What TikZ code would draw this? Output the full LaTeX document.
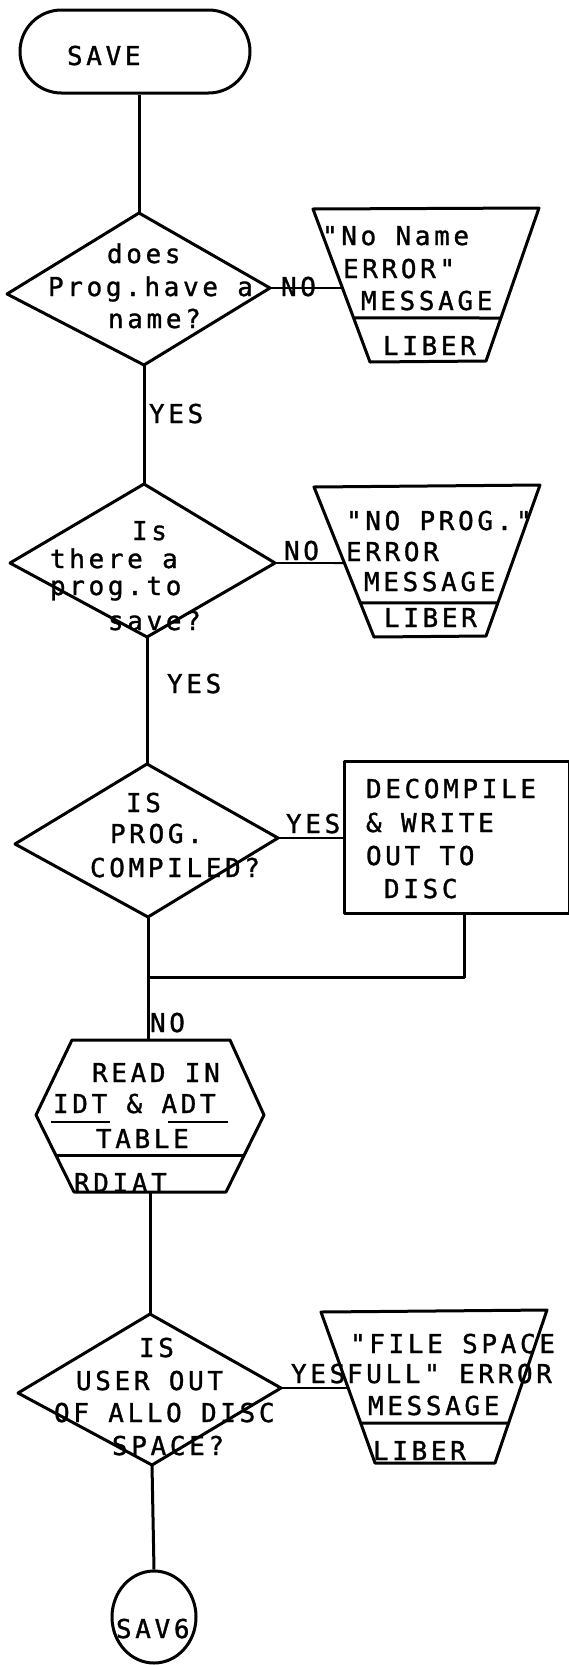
\documentclass[tikz,border=0pt]{standalone}
\usepackage{fontspec}
\newfontfamily\tw[LetterSpace=14.0,FakeBold=1.2]{DejaVu Sans Mono}
\usetikzlibrary{shapes.geometric,shapes.misc,calc}
\begin{document}
\begin{tikzpicture}[x=1pt,y=-1pt,line join=round,
  outl/.style={line width=3pt},
  flow/.style={line width=3pt},
  sideline/.style={line width=1.9pt},
  uline/.style={line width=2.2pt},
  lbl/.style={anchor=base west,inner sep=0pt,outer sep=0pt,font=\tw\fontsize{26}{30}\selectfont}]
\useasboundingbox (0,0) rectangle (568,1665);

% ---------- SAVE terminal
\node[draw,outl,rounded rectangle,minimum width=230pt,minimum height=83pt,inner sep=0pt] (save) at (135,51.5) {};
\node[lbl] (saveT) at (67,65) {SAVE};

% ---------- Decision 1
\coordinate (d1t) at (139,213);
\coordinate (d1r) at (270,288);
\coordinate (d1b) at (144,365);
\coordinate (d1l) at (7,294);
\draw[outl] (d1t) -- (d1r) -- (d1b) -- (d1l) -- cycle;
\node[lbl] (d1x1) at (107,263) {does};
\node[lbl] (d1x2) at (48,296) {Prog.have a};
\node[lbl] (d1x3) at (108,328) {name?};
\draw[flow] (d1t |- save.south) -- (d1t);

% ---------- Message 1
\coordinate (t1tl) at (313,209);
\coordinate (t1tr) at (539,208);
\coordinate (t1br) at (486,361);
\coordinate (t1bl) at (370,362);
\draw[outl] (t1tl) -- (t1tr) -- (t1br) -- (t1bl) -- cycle;
\coordinate (t1w) at ($(t1tl)!0.516!(t1bl)$);
\draw[outl] ($(t1tl)!0.712!(t1bl)$) -- ($(t1tr)!0.719!(t1br)$);
\node[lbl] (t1x1) at (322,245) {"No Name};
\node[lbl] (t1x2) at (343,278) {ERROR"};
\node[lbl] (t1x3) at (361,310) {MESSAGE};
\node[lbl] (t1x4) at (383,355) {LIBER};
\node[lbl] (no1) at (281,296) {NO};
\draw[sideline] (d1r) -- (t1w);
\node[lbl] (yes1) at (149,423) {YES};

% ---------- Decision 2
\coordinate (d2t) at (144,484);
\coordinate (d2r) at (275,563);
\coordinate (d2b) at (147,637);
\coordinate (d2l) at (10,563);
\draw[outl] (d2t) -- (d2r) -- (d2b) -- (d2l) -- cycle;
\node[lbl] (d2x1) at (132,540) {Is};
\node[lbl] (d2x2) at (50,568) {there a};
\node[lbl] (d2x3) at (50,595) {prog.to};
\node[lbl] (d2x4) at (108,630) {save?};
\draw[flow] (d1b) -- (d2t);

% ---------- Message 2
\coordinate (t2tl) at (314,487);
\coordinate (t2tr) at (540,485);
\coordinate (t2br) at (486,636);
\coordinate (t2bl) at (374,637);
\draw[outl] (t2tl) -- (t2tr) -- (t2br) -- (t2bl) -- cycle;
\coordinate (t2w) at ($(t2tl)!0.507!(t2bl)$);
\draw[outl] ($(t2tl)!0.773!(t2bl)$) -- ($(t2tr)!0.781!(t2br)$);
\node[lbl] (t2x1) at (346,530) {"NO PROG."};
\node[lbl] (t2x2) at (346,561) {ERROR};
\node[lbl] (t2x3) at (364,591) {MESSAGE};
\node[lbl] (t2x4) at (384,627) {LIBER};
\node[lbl] (no2) at (284,560) {NO};
\draw[sideline] (d2r) -- (t2w);
\node[lbl] (yes2) at (167,693) {YES};

% ---------- Decision 3
\coordinate (d3t) at (147,764);
\coordinate (d3r) at (278,838);
\coordinate (d3b) at (148,917);
\coordinate (d3l) at (15,844);
\draw[outl] (d3t) -- (d3r) -- (d3b) -- (d3l) -- cycle;
\node[lbl] (d3x1) at (126,812) {IS};
\node[lbl] (d3x2) at (110,843) {PROG.};
\node[lbl] (d3x3) at (90,877) {COMPILED?};
\draw[flow] (d2b) -- (d3t);

% ---------- Decompile box
\node[draw,outl,minimum width=225pt,minimum height=152pt,inner sep=0pt,anchor=north west] (box) at (343,760) {};
\node[lbl] (bx1) at (366,798) {DECOMPILE};
\node[lbl] (bx2) at (366,832) {\& WRITE};
\node[lbl] (bx3) at (366,865) {OUT TO};
\node[lbl] (bx4) at (384,898) {DISC};
\node[lbl] (yes3) at (286,833) {YES};
\draw[sideline] (d3r) -- (d3r -| box.west);
\coordinate (m) at (148,977);
\coordinate (bxo) at ($(box.south west)+(121,0)$);
\draw[flow] (bxo) |- (m);

% ---------- Read-in hexagon
\coordinate (h1) at (72,1040);
\coordinate (h2) at (230,1040);
\coordinate (h3) at (264,1115);
\coordinate (h4) at (226,1192);
\coordinate (h5) at (74,1192);
\coordinate (h6) at (36,1115);
\draw[outl] (h1) -- (h2) -- (h3) -- (h4) -- (h5) -- (h6) -- cycle;
\draw[outl] ($(h6)!0.532!(h5)$) -- ($(h3)!0.532!(h4)$);
\node[lbl] (hx1) at (92,1082) {READ IN};
\node[lbl] (hx2) at (53,1113) {IDT \& ADT};
\draw[uline] (51,1122) -- (110,1122);
\draw[uline] (168,1122) -- (228,1122);
\node[lbl] (hx3) at (96,1148) {TABLE};
\node[lbl] (hx4) at (74,1192) {RDIAT};
\coordinate (hT) at (148,1040);
\coordinate (hB) at (150,1192);
\draw[flow] (d3b) -- (hT);
\node[lbl] (no3) at (150,1032) {NO};

% ---------- Decision 4
\coordinate (d4t) at (150,1314);
\coordinate (d4r) at (281,1388);
\coordinate (d4b) at (152,1465);
\coordinate (d4l) at (18,1393);
\draw[outl] (d4t) -- (d4r) -- (d4b) -- (d4l) -- cycle;
\node[lbl] (d4x1) at (139,1357) {IS};
\node[lbl] (d4x2) at (76,1390) {USER OUT};
\node[lbl] (d4x3) at (54,1422) {OF ALLO DISC};
\node[lbl] (d4x4) at (112,1455) {SPACE?};
\draw[flow] (hB) -- (d4t);

% ---------- Message 4
\coordinate (t4tl) at (321,1312);
\coordinate (t4tr) at (547,1310);
\coordinate (t4br) at (495,1463);
\coordinate (t4bl) at (375,1463);
\draw[outl] (t4tl) -- (t4tr) -- (t4br) -- (t4bl) -- cycle;
\coordinate (t4w) at ($(t4tl)!0.503!(t4bl)$);
\draw[outl] ($(t4tl)!0.735!(t4bl)$) -- ($(t4tr)!0.739!(t4br)$);
\node[lbl] (t4x1) at (350,1353) {"FILE SPACE};
\node[lbl] (t4x2) at (347,1383) {FULL" ERROR};
\node[lbl] (t4x3) at (368,1415) {MESSAGE};
\node[lbl] (t4x4) at (373,1460) {LIBER};
\node[lbl] (yes4) at (291,1383) {YES};
\draw[sideline] (d4r) -- (t4w);

% ---------- SAV6 connector
\node[draw,outl,ellipse,minimum width=84pt,minimum height=92pt,inner sep=0pt] (sav6) at (154,1617) {};
\node[lbl] (sav6T) at (116,1638) {SAV6};
\draw[flow] (d4b) -- (sav6.north);
\end{tikzpicture}
\end{document}
